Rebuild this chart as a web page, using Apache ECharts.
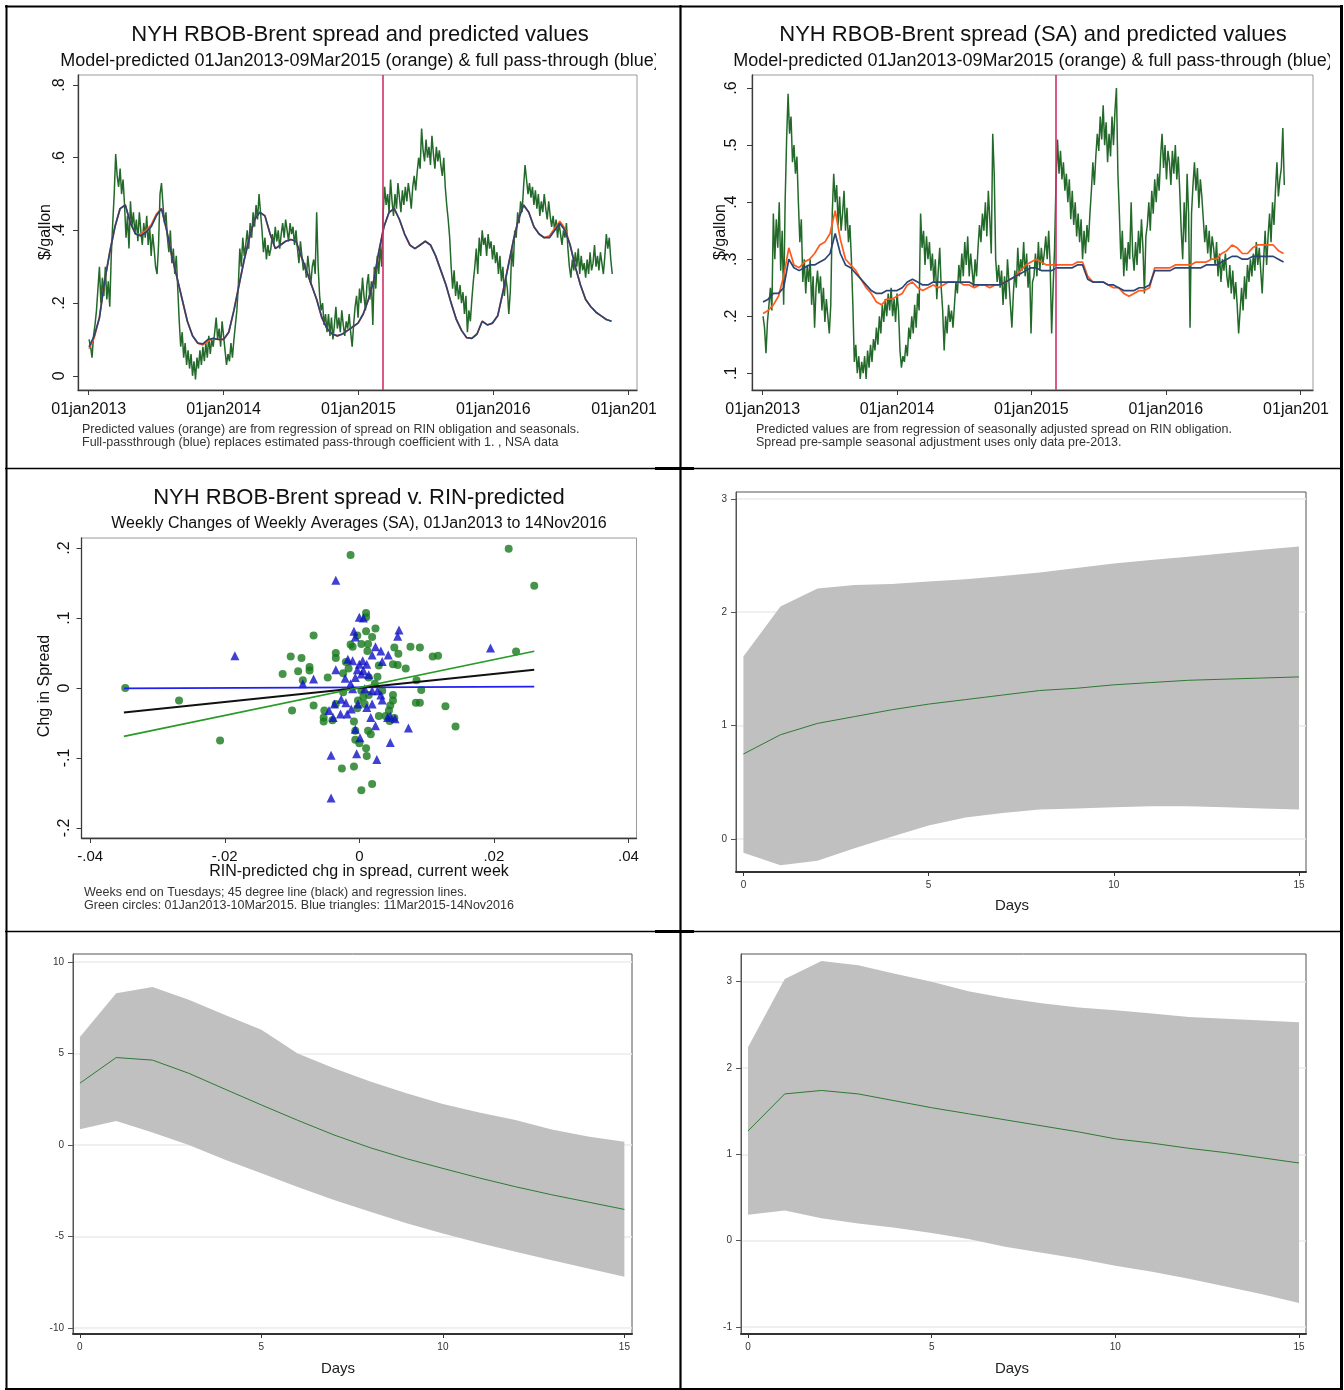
<!DOCTYPE html>
<html>
<head>
<meta charset="utf-8">
<title>NYH RBOB-Brent spread, RIN-predicted values and impulse responses</title>
<script src="https://cdn.jsdelivr.net/npm/echarts@6.0.0/dist/echarts.min.js"></script>
<style>
html, body { margin: 0; padding: 0; background: #fff; }
#chart { width: 1344px; height: 1390px; }
</style>
</head>
<body>
<div id="chart"></div>
<script>
// ---------- time axis: days since 01jan2013 ----------
const yearTicks = [0, 365, 730, 1095, 1461];
const yearLabels = ['01jan2013', '01jan2014', '01jan2015', '01jan2016', '01jan2017'];
const breakDay = 797; // 09Mar2015, end of the estimation sample

// NYH RBOB-Brent spread, $/gallon, one reading every 4 days from 02jan2013
const dailyStart = 1;
const dailyStep = 4;
const spreadNSA = [
  0.10,0.08,0.05,0.11,0.14,0.18,0.24,0.30, 0.20,0.27,0.22,0.30,0.21,0.26,0.19,
  0.33,0.42,0.50,0.61,0.55,0.52,0.57,0.50, 0.54,0.47,0.38,0.44,0.35,0.48,0.41,0.45,
  0.39,0.43,0.37,0.45,0.40,0.36,0.42, 0.38,0.44,0.36,0.41,0.33,0.39,0.35,0.30,
  0.28,0.36,0.50,0.53,0.47,0.42,0.45,0.38, 0.34,0.40,0.31,0.35,0.28,0.33,0.24,
  0.15,0.08,0.12,0.05,0.09,0.03,0.07,0.02, 0.06,0.00,0.04,-0.01,0.05,0.02,0.07,0.03,
  0.08,0.04,0.09,0.05,0.11,0.06,0.10, 0.08,0.12,0.16,0.10,0.13,0.08,0.15,0.11,
  0.07,0.03,0.06,0.04,0.09,0.05,0.10,0.14, 0.18,0.25,0.35,0.30,0.38,0.33,0.36,
  0.40,0.35,0.42,0.38,0.45,0.41,0.47,0.43, 0.50,0.45,0.40,0.34,0.38,0.32,0.36,0.33,
  0.35,0.39,0.36,0.41,0.37,0.40,0.35, 0.39,0.42,0.38,0.43,0.40,0.37,0.42,0.39,
  0.41,0.36,0.40,0.35,0.31,0.37,0.33,0.29, 0.31,0.27,0.33,0.29,0.25,0.30,0.32,
  0.28,0.45,0.30,0.22,0.18,0.20,0.14,0.17, 0.12,0.17,0.11,0.16,0.10,0.14,0.19,0.13,
  0.16,0.12,0.18,0.14,0.11,0.15,0.13, 0.17,0.12,0.08,0.14,0.19,0.22,0.16,0.24,
  0.20,0.27,0.22,0.18,0.25,0.28,0.21,0.26, 0.14,0.30,0.24,0.33,0.28,0.36,0.30,
  0.45,0.52,0.47,0.50,0.45,0.54,0.48,0.44, 0.50,0.46,0.53,0.49,0.45,0.51,0.47,0.52,
  0.48,0.53,0.50,0.46,0.52,0.55,0.51, 0.56,0.60,0.57,0.68,0.62,0.59,0.65,0.60,
  0.63,0.58,0.66,0.61,0.57,0.63,0.59,0.62, 0.58,0.55,0.60,0.52,0.47,0.43,0.38,
  0.30,0.24,0.29,0.22,0.26,0.21,0.25,0.20, 0.23,0.17,0.22,0.12,0.18,0.15,0.21,0.26,
  0.30,0.35,0.28,0.38,0.33,0.40,0.36, 0.38,0.33,0.39,0.35,0.37,0.32,0.36,0.31,
  0.34,0.28,0.33,0.26,0.30,0.22,0.27,0.24, 0.17,0.23,0.35,0.30,0.40,0.38,0.45,
  0.42,0.48,0.45,0.52,0.58,0.54,0.50,0.53, 0.49,0.52,0.47,0.51,0.46,0.50,0.44,0.48,
  0.45,0.50,0.46,0.43,0.48,0.44,0.41, 0.44,0.40,0.43,0.38,0.42,0.39,0.36,0.40,
  0.38,0.42,0.35,0.30,0.27,0.32,0.29,0.34, 0.30,0.35,0.28,0.33,0.29,0.31,0.27,
  0.32,0.28,0.34,0.29,0.31,0.36,0.30,0.33, 0.29,0.34,0.31,0.28,0.33,0.39,0.35,0.38,
  0.32,0.28
];
// seasonally adjusted spread, same dates
const spreadSA = [
  0.20,0.18,0.135,0.19,0.22,0.25,0.21,0.38, 0.30,0.37,0.32,0.40,0.28,0.35,0.22,
  0.40,0.51,0.59,0.52,0.55,0.47,0.50,0.45, 0.48,0.40,0.33,0.37,0.26,0.30,0.24,0.29,
  0.26,0.30,0.22,0.27,0.18,0.25,0.28, 0.24,0.27,0.21,0.25,0.19,0.23,0.20,0.17,
  0.22,0.38,0.45,0.40,0.43,0.36,0.41,0.35, 0.38,0.42,0.35,0.39,0.33,0.36,0.30,
  0.22,0.12,0.15,0.10,0.13,0.09,0.12,0.10, 0.13,0.09,0.14,0.11,0.15,0.12,0.16,0.14,
  0.18,0.15,0.20,0.17,0.22,0.19,0.23, 0.20,0.24,0.21,0.25,0.20,0.23,0.19,0.24,
  0.21,0.14,0.11,0.13,0.12,0.15,0.13,0.18, 0.16,0.20,0.17,0.22,0.18,0.24,0.21,
  0.38,0.32,0.35,0.29,0.34,0.30,0.33,0.28, 0.31,0.26,0.30,0.23,0.28,0.32,0.25,0.21,
  0.14,0.20,0.17,0.22,0.19,0.21,0.18, 0.22,0.26,0.24,0.29,0.26,0.31,0.27,0.33,
  0.29,0.34,0.27,0.31,0.28,0.25,0.30,0.27, 0.32,0.36,0.33,0.38,0.35,0.40,0.34,
  0.42,0.37,0.31,0.52,0.45,0.30,0.26,0.29, 0.25,0.28,0.22,0.27,0.23,0.30,0.26,0.22,
  0.18,0.24,0.28,0.25,0.32,0.27,0.30, 0.28,0.33,0.27,0.31,0.25,0.29,0.17,0.26,
  0.27,0.31,0.27,0.33,0.28,0.32,0.29,0.31, 0.34,0.30,0.35,0.29,0.17,0.25,0.32,
  0.44,0.51,0.45,0.49,0.44,0.47,0.42,0.45, 0.40,0.44,0.37,0.42,0.36,0.40,0.34,0.38,
  0.33,0.37,0.30,0.35,0.31,0.36,0.33, 0.38,0.42,0.47,0.43,0.48,0.52,0.49,0.55,
  0.51,0.57,0.50,0.54,0.47,0.52,0.48,0.55, 0.50,0.56,0.60,0.45,0.38,0.30,0.35,
  0.27,0.32,0.28,0.33,0.30,0.40,0.31,0.28, 0.33,0.29,0.35,0.31,0.37,0.32,0.24,0.34,
  0.36,0.40,0.35,0.42,0.38,0.44,0.40, 0.45,0.42,0.48,0.52,0.46,0.50,0.44,0.49,
  0.47,0.43,0.49,0.45,0.50,0.44,0.48,0.42, 0.35,0.30,0.40,0.33,0.45,0.38,0.18,
  0.38,0.43,0.47,0.42,0.46,0.39,0.44,0.41, 0.37,0.33,0.36,0.31,0.35,0.30,0.34,0.32,
  0.29,0.33,0.27,0.31,0.26,0.30,0.28, 0.31,0.27,0.25,0.29,0.24,0.28,0.23,0.26,
  0.22,0.17,0.21,0.25,0.21,0.27,0.23,0.29, 0.26,0.30,0.27,0.31,0.28,0.33,0.29,
  0.32,0.28,0.24,0.30,0.35,0.29,0.34,0.38, 0.33,0.40,0.36,0.42,0.47,0.41,0.44,0.46,
  0.53,0.43
];

// model predictions, one value every 14 days from 02jan2013
const smoothStep = 14;
const predNSA = [
  0.075,0.105,0.16,0.26,0.34,0.41,0.46,0.47,0.42,0.39,
  0.39,0.40,0.415,0.445,0.46,0.40,0.33,0.27,0.21,0.15,
  0.11,0.09,0.085,0.095,0.103,0.10,0.10,0.12,0.18,0.25,
  0.32,0.38,0.43,0.45,0.44,0.39,0.35,0.36,0.37,0.375,
  0.37,0.33,0.29,0.25,0.21,0.16,0.13,0.115,0.11,0.115,
  0.125,0.135,0.145,0.17,0.21,0.26,0.34,0.41,0.45,0.46,
  0.43,0.39,0.36,0.35,0.36,0.37,0.36,0.33,0.29,0.25,
  0.20,0.155,0.125,0.105,0.103,0.115,0.15,0.14,0.145,0.165,
  0.23,0.30,0.37,0.43,0.47,0.45,0.41,0.39,0.38,0.385,
  0.405,0.425,0.405,0.36,0.30,0.25,0.21,0.19,0.175,0.165,
  0.155,0.15
];
const fullNSA = [
  0.08,0.11,0.16,0.26,0.34,0.41,0.46,0.47,0.42,0.39,
  0.385,0.395,0.41,0.44,0.46,0.40,0.33,0.27,0.21,0.15,
  0.11,0.09,0.088,0.10,0.103,0.10,0.10,0.12,0.18,0.25,
  0.32,0.38,0.43,0.45,0.44,0.39,0.35,0.36,0.37,0.375,
  0.37,0.33,0.29,0.25,0.21,0.16,0.13,0.115,0.11,0.115,
  0.125,0.135,0.145,0.17,0.21,0.26,0.34,0.41,0.45,0.46,
  0.43,0.39,0.36,0.35,0.36,0.37,0.36,0.33,0.29,0.25,
  0.20,0.155,0.125,0.105,0.103,0.115,0.15,0.14,0.145,0.165,
  0.23,0.30,0.37,0.43,0.47,0.45,0.41,0.39,0.38,0.38,
  0.40,0.42,0.40,0.36,0.30,0.25,0.21,0.19,0.175,0.165,
  0.155,0.15
];
const predSA = [
  0.205,0.21,0.22,0.235,0.27,0.32,0.29,0.285,0.295,0.30,
  0.31,0.325,0.33,0.345,0.385,0.335,0.30,0.29,0.28,0.265,
  0.25,0.24,0.225,0.22,0.23,0.23,0.235,0.24,0.255,0.26,
  0.25,0.245,0.25,0.255,0.25,0.255,0.26,0.26,0.26,0.255,
  0.255,0.25,0.255,0.255,0.25,0.255,0.255,0.26,0.265,0.27,
  0.28,0.29,0.295,0.30,0.295,0.29,0.29,0.29,0.29,0.29,
  0.29,0.295,0.295,0.27,0.26,0.26,0.26,0.255,0.25,0.25,
  0.24,0.235,0.24,0.245,0.245,0.25,0.285,0.285,0.285,0.285,
  0.29,0.29,0.29,0.29,0.295,0.295,0.295,0.30,0.30,0.31,
  0.315,0.325,0.32,0.31,0.31,0.32,0.325,0.325,0.325,0.325,
  0.315,0.31
];
const fullSA = [
  0.225,0.23,0.24,0.24,0.25,0.30,0.285,0.28,0.285,0.29,
  0.29,0.295,0.30,0.31,0.345,0.31,0.29,0.285,0.275,0.265,
  0.255,0.245,0.24,0.24,0.245,0.245,0.245,0.25,0.26,0.265,
  0.26,0.255,0.255,0.26,0.26,0.26,0.26,0.26,0.26,0.26,
  0.26,0.255,0.255,0.255,0.255,0.255,0.255,0.26,0.265,0.27,
  0.275,0.28,0.285,0.285,0.28,0.28,0.28,0.285,0.285,0.285,
  0.285,0.29,0.29,0.265,0.26,0.26,0.26,0.255,0.255,0.25,
  0.245,0.245,0.245,0.25,0.25,0.255,0.28,0.28,0.28,0.28,
  0.285,0.285,0.285,0.285,0.285,0.285,0.29,0.29,0.29,0.295,
  0.30,0.305,0.305,0.30,0.30,0.305,0.305,0.305,0.305,0.305,
  0.30,0.295
];

// weekly changes: [RIN-predicted chg, chg in spread]
const earlyWeeks = [
  [-0.0348,0.000],[-0.0268,-0.018],[-0.0207,-0.075],[-0.0013,0.190],[0.0222,0.199],[0.0260,0.146],
  [0.0233,0.052],[-0.0068,0.075],[-0.0102,0.045],[-0.0086,0.043],[-0.0114,0.020],[-0.0091,0.024],
  [-0.0074,0.030],[-0.0074,0.025],[-0.0100,-0.032],[-0.0068,-0.025],[-0.0084,0.011],[-0.0047,0.015],
  [-0.0035,0.050],[-0.0035,0.043],[-0.0052,-0.032],[-0.0053,-0.042],[-0.0053,-0.048],[-0.0040,-0.046],
  [-0.0026,-0.115],[-0.0008,-0.112],[0.0003,-0.146],[0.0019,-0.137],[0.0010,0.107],[0.0010,0.101],
  [-0.0013,0.062],[-0.0003,0.075],[0.0010,0.081],[0.0019,0.073],[0.0024,0.085],[0.0013,0.063],
  [0.0003,0.063],[-0.0010,0.059],[0.0012,0.053],[0.0052,0.058],[0.0058,0.049],[0.0076,0.059],
  [0.0090,0.058],[0.0109,0.045],[0.0117,0.046],[0.0050,0.034],[0.0057,0.033],[0.0069,0.028],
  [0.0029,0.032],[-0.0020,0.037],[-0.0016,0.028],[-0.0024,0.021],[0.0027,0.016],[0.0085,0.011],
  [0.0092,-0.003],[0.0084,-0.021],[0.0090,-0.021],[0.0128,-0.026],[0.0143,-0.055],[0.0050,-0.010],
  [0.0046,-0.025],[0.0050,-0.018],[0.0044,-0.032],[0.0052,-0.043],[0.0045,-0.047],[0.0003,-0.004],
  [-0.0002,-0.018],[0.0006,-0.013],[0.0014,-0.010],[0.0008,-0.023],[-0.0003,-0.029],[-0.0008,-0.048],
  [-0.0006,-0.061],[-0.0006,-0.074],[0.0000,-0.079],[0.0010,-0.086],[0.0011,-0.097],[0.0013,-0.061],
  [0.0017,-0.066],[0.0029,-0.040],[0.0039,-0.040],[0.0034,-0.004],[-0.0035,-0.023],[-0.0024,-0.006],
  [0.0014,0.015],[0.0023,0.006]
];
const lateWeeks = [
  [-0.0185,0.046],[-0.0035,0.154],[0.0000,0.101],[0.0006,0.100],[0.0059,0.083],[0.0057,0.074],
  [-0.0008,0.081],[-0.0006,0.073],[0.0195,0.057],[-0.0068,0.013],[-0.0084,0.006],[-0.0035,0.026],
  [-0.0017,0.041],[-0.0010,0.039],[0.0000,0.034],[0.0005,0.039],[0.0011,0.034],[0.0006,0.025],
  [-0.0003,0.026],[0.0024,0.059],[0.0032,0.053],[0.0019,0.047],[0.0043,0.047],[0.0034,0.038],
  [0.0014,0.019],[-0.0021,0.014],[-0.0013,0.006],[-0.0027,-0.016],[-0.0020,-0.021],[-0.0037,-0.023],
  [-0.0045,-0.032],[-0.0039,-0.042],[-0.0028,-0.037],[-0.0018,-0.037],[-0.0012,-0.030],[-0.0002,-0.023],
  [0.0011,-0.028],[0.0017,-0.042],[0.0027,-0.004],[0.0032,-0.010],[0.0034,-0.017],[0.0042,-0.042],
  [0.0053,-0.044],[0.0046,-0.040],[0.0073,-0.057],[0.0046,-0.078],[-0.0006,-0.059],[0.0001,-0.071],
  [-0.0004,-0.094],[-0.0042,-0.096],[0.0026,-0.102],[-0.0042,-0.157],[0.0019,-0.004],[0.0008,-0.001],
  [-0.0010,-0.001],[0.0019,-0.023],[0.0024,-0.054],[0.0003,0.020],[-0.0006,0.015]
];
const line45 = [[-0.035, -0.035], [0.026, 0.026]];
const fitEarly = [[-0.035, -0.069], [0.026, 0.0525]];
const fitLate = [[-0.035, -0.0005], [0.026, 0.002]];

// impulse responses over 15 days, point estimate and confidence band
const days = [0,1,2,3,4,5,6,7,8,9,10,11,12,13,14,15];
const irfAMid = [0.75,0.92,1.02,1.08,1.14,1.19,1.23,1.27,1.31,1.33,1.36,1.38,1.40,1.41,1.42,1.43];
const irfAHi  = [1.61,2.05,2.21,2.24,2.25,2.27,2.29,2.32,2.35,2.39,2.43,2.46,2.49,2.52,2.55,2.58];
const irfALo  = [-0.12,-0.23,-0.19,-0.08,0.02,0.12,0.19,0.23,0.26,0.27,0.28,0.29,0.29,0.28,0.27,0.26];
const irfBMid = [3.38,4.78,4.64,3.92,3.05,2.19,1.35,0.55,-0.15,-0.75,-1.28,-1.80,-2.28,-2.72,-3.12,-3.52];
const irfBHi  = [5.9,8.3,8.63,7.94,7.1,6.3,5.0,4.2,3.47,2.83,2.24,1.77,1.37,0.85,0.46,0.18];
const irfBLo  = [0.86,1.31,0.68,0.0,-0.8,-1.55,-2.3,-3.0,-3.65,-4.27,-4.84,-5.36,-5.84,-6.3,-6.75,-7.2];
const irfCMid = [1.27,1.70,1.74,1.70,1.62,1.54,1.47,1.40,1.33,1.26,1.18,1.13,1.07,1.02,0.96,0.90];
const irfCHi  = [2.24,3.03,3.24,3.19,3.09,3.0,2.89,2.81,2.75,2.70,2.67,2.63,2.59,2.57,2.55,2.53];
const irfCLo  = [0.30,0.35,0.26,0.20,0.15,0.09,0.02,-0.07,-0.14,-0.21,-0.29,-0.36,-0.44,-0.53,-0.62,-0.72];

// ---------- helpers ----------
const FONT = '"Liberation Sans", Arial, Helvetica, sans-serif';
const C_SPREAD = '#22692a';
const C_PRED = '#ff5b1e';
const C_FULL = '#2b4475';
const C_BREAK = '#d4306a';

const toXY = (vals, start, step) => vals.map((v, i) => [start + step * i, v]);
const dateLabel = v => { const i = yearTicks.indexOf(v); return i < 0 ? '' : yearLabels[i]; };
const stataNum = v => {
  if (Math.abs(v) < 1e-9) return '0';
  return String(+v.toFixed(3)).replace(/^(-?)0\./, '$1.');
};

function stataX(gi, min, max, ticks, fmt, size, margin) {
  return {
    type: 'value', gridIndex: gi, min, max,
    axisLine: { show: true, onZero: false, lineStyle: { color: '#3a3a3a', width: 1.3 } },
    axisTick: { show: true, length: 5, customValues: ticks, lineStyle: { color: '#3a3a3a' } },
    axisLabel: { customValues: ticks, formatter: fmt, fontFamily: FONT, fontSize: size, color: '#111', margin },
    splitLine: { show: false }
  };
}
function stataY(gi, min, max, ticks, margin) {
  return {
    type: 'value', gridIndex: gi, min, max,
    axisLine: { show: true, onZero: false, lineStyle: { color: '#3a3a3a', width: 1.3 } },
    axisTick: { show: true, length: 5, customValues: ticks, lineStyle: { color: '#3a3a3a' } },
    axisLabel: { customValues: ticks, formatter: stataNum, rotate: 90, fontFamily: FONT, fontSize: 16, color: '#111', margin },
    splitLine: { show: false }
  };
}
function irfX(gi, min, max) {
  const ticks = [0, 5, 10, 15];
  return {
    type: 'value', gridIndex: gi, min, max,
    axisLine: { show: true, onZero: false, lineStyle: { color: '#333', width: 2 } },
    axisTick: { show: true, length: 4, customValues: ticks, lineStyle: { color: '#333' } },
    axisLabel: { customValues: ticks, fontFamily: FONT, fontSize: 10, color: '#333', margin: 8 },
    splitLine: { show: false }
  };
}
function irfY(gi, min, max, ticks) {
  return {
    type: 'value', gridIndex: gi, min, max,
    axisLine: { show: true, onZero: false, lineStyle: { color: '#555', width: 1 } },
    axisTick: { show: true, length: 5, customValues: ticks, lineStyle: { color: '#555' } },
    axisLabel: { customValues: ticks, fontFamily: FONT, fontSize: 10, color: '#333', margin: 9 },
    splitLine: { show: true, lineStyle: { color: '#ebebeb', width: 1.5 } }
  };
}
function lineSeries(gi, data, color, width, z) {
  return {
    type: 'line', xAxisIndex: gi, yAxisIndex: gi, data, z,
    symbol: 'none', showSymbol: false, silent: true, animation: false,
    emphasis: { disabled: true },
    lineStyle: { color, width }
  };
}
function bandSeries(gi, lo, hi) {
  return {
    type: 'custom', xAxisIndex: gi, yAxisIndex: gi, silent: true, animation: false, z: 1,
    data: days.map((d, i) => [d, lo[i], hi[i]]),
    encode: { x: 0, y: [1, 2] },
    renderItem: (params, api) => {
      if (params.dataIndex !== 0) return null;
      const pts = [];
      for (let i = 0; i < days.length; i++) pts.push(api.coord([days[i], hi[i]]));
      for (let i = days.length - 1; i >= 0; i--) pts.push(api.coord([days[i], lo[i]]));
      return { type: 'polygon', shape: { points: pts }, style: { fill: '#c0c0c0' } };
    }
  };
}
function txt(x, y, text, size, o = {}) {
  const align = o.align || 'center';
  return {
    type: 'text', x, y, z: 50, silent: true, rotation: o.rot || 0,
    style: {
      text, fill: o.color || '#111', font: size + 'px ' + FONT,
      align, verticalAlign: 'middle', textAlign: align, textVerticalAlign: 'middle'
    }
  };
}
function rule(x1, y1, x2, y2, w) {
  return { type: 'line', z: 120, silent: true, shape: { x1, y1, x2, y2 }, style: { stroke: '#000', lineWidth: w } };
}

const gridBase = { show: true, containLabel: false, outerBoundsMode: 'none' };
const NOTE = 12.5;

// ---------- chart ----------
const chart = echarts.init(document.getElementById('chart'), null, { renderer: 'canvas' });
chart.setOption({
  animation: false,
  backgroundColor: '#fff',
  grid: [
    Object.assign({ left: 78, top: 75, width: 559, height: 315, borderColor: '#9a9a9a', borderWidth: 1 }, gridBase),
    Object.assign({ left: 752, top: 75, width: 561, height: 315, borderColor: '#9a9a9a', borderWidth: 1 }, gridBase),
    Object.assign({ left: 81.5, top: 538, width: 555, height: 300, borderColor: '#9a9a9a', borderWidth: 1 }, gridBase),
    Object.assign({ left: 736, top: 492, width: 570, height: 380, borderColor: '#555', borderWidth: 1 }, gridBase),
    Object.assign({ left: 73, top: 954, width: 559, height: 380, borderColor: '#555', borderWidth: 1 }, gridBase),
    Object.assign({ left: 741, top: 954, width: 565, height: 380, borderColor: '#555', borderWidth: 1 }, gridBase)
  ],
  xAxis: [
    stataX(0, -29, 1484, yearTicks, dateLabel, 16, 12),
    stataX(1, -29, 1495, yearTicks, dateLabel, 16, 12),
    stataX(2, -0.0413, 0.0412, [-0.04, -0.02, 0, 0.02, 0.04], stataNum, 15, 11),
    irfX(3, -0.2, 15.19),
    irfX(4, -0.19, 15.21),
    irfX(5, -0.19, 15.19)
  ],
  yAxis: [
    stataY(0, -0.039, 0.8275, [0, 0.2, 0.4, 0.6, 0.8], 10),
    stataY(1, 0.0707, 0.623, [0.1, 0.2, 0.3, 0.4, 0.5, 0.6], 12),
    stataY(2, -0.2143, 0.2143, [-0.2, -0.1, 0, 0.1, 0.2], 9),
    irfY(3, -0.29, 3.06, [0, 1, 2, 3]),
    irfY(4, -10.33, 10.44, [-10, -5, 0, 5, 10]),
    irfY(5, -1.08, 3.32, [-1, 0, 1, 2, 3])
  ],
  series: [
    // spread NSA with predictions
    Object.assign(lineSeries(0, toXY(spreadNSA, dailyStart, dailyStep), C_SPREAD, 1.5, 2), {
      markLine: {
        silent: true, symbol: 'none', animation: false, label: { show: false },
        emphasis: { disabled: true },
        lineStyle: { color: C_BREAK, width: 1.6, type: 'solid' },
        data: [{ xAxis: breakDay }]
      }
    }),
    lineSeries(0, toXY(predNSA, dailyStart, smoothStep), C_PRED, 1.7, 3),
    lineSeries(0, toXY(fullNSA, dailyStart, smoothStep), C_FULL, 1.7, 4),
    // spread SA with predictions
    Object.assign(lineSeries(1, toXY(spreadSA, dailyStart, dailyStep), C_SPREAD, 1.5, 2), {
      markLine: {
        silent: true, symbol: 'none', animation: false, label: { show: false },
        emphasis: { disabled: true },
        lineStyle: { color: C_BREAK, width: 1.6, type: 'solid' },
        data: [{ xAxis: breakDay }]
      }
    }),
    lineSeries(1, toXY(predSA, dailyStart, smoothStep), C_PRED, 1.7, 3),
    lineSeries(1, toXY(fullSA, dailyStart, smoothStep), C_FULL, 1.7, 4),
    // weekly changes scatter
    {
      type: 'scatter', xAxisIndex: 2, yAxisIndex: 2, data: earlyWeeks, symbol: 'circle', symbolSize: 8,
      itemStyle: { color: '#17791b' }, silent: true, z: 2
    },
    {
      type: 'scatter', xAxisIndex: 2, yAxisIndex: 2, data: lateWeeks, symbol: 'triangle', symbolSize: 9,
      itemStyle: { color: '#1010c8' }, silent: true, z: 3
    },
    lineSeries(2, fitLate, '#2020f0', 1.6, 4),
    lineSeries(2, line45, '#111', 1.9, 5),
    lineSeries(2, fitEarly, '#279a27', 1.7, 6),
    // impulse responses
    bandSeries(3, irfALo, irfAHi),
    lineSeries(3, days.map((d, i) => [d, irfAMid[i]]), '#2f7a34', 1, 3),
    bandSeries(4, irfBLo, irfBHi),
    lineSeries(4, days.map((d, i) => [d, irfBMid[i]]), '#2f7a34', 1, 3),
    bandSeries(5, irfCLo, irfCHi),
    lineSeries(5, days.map((d, i) => [d, irfCMid[i]]), '#2f7a34', 1, 3)
  ],
  graphic: [
    // panel 1 text
    txt(360, 35, 'NYH RBOB-Brent spread and predicted values', 22),
    txt(360, 61.5, 'Model-predicted 01Jan2013-09Mar2015 (orange) & full pass-through (blue)', 18),
    txt(46, 232, '$/gallon', 16, { rot: Math.PI / 2 }),
    txt(82, 430, 'Predicted values (orange) are from regression of spread on RIN obligation and seasonals.', NOTE, { align: 'left', color: '#333' }),
    txt(82, 443, 'Full-passthrough (blue) replaces estimated pass-through coefficient with 1. , NSA data', NOTE, { align: 'left', color: '#333' }),
    // panel 2 text
    txt(1033, 35, 'NYH RBOB-Brent spread (SA) and predicted values', 22),
    txt(1033, 61.5, 'Model-predicted 01Jan2013-09Mar2015 (orange) & full pass-through (blue)', 18),
    txt(721, 232, '$/gallon', 16, { rot: Math.PI / 2 }),
    txt(756, 430, 'Predicted values are from regression of seasonally adjusted spread on RIN obligation.', NOTE, { align: 'left', color: '#333' }),
    txt(756, 443, 'Spread pre-sample seasonal adjustment uses only data pre-2013.', NOTE, { align: 'left', color: '#333' }),
    // panel 3 text
    txt(359, 498, 'NYH RBOB-Brent spread v. RIN-predicted', 22),
    txt(359, 524, 'Weekly Changes of Weekly Averages (SA), 01Jan2013 to 14Nov2016', 16),
    txt(45, 686, 'Chg in Spread', 16, { rot: Math.PI / 2 }),
    txt(359, 872, 'RIN-predicted chg in spread, current week', 16),
    txt(84, 893, 'Weeks end on Tuesdays; 45 degree line (black) and regression lines.', NOTE, { align: 'left', color: '#333' }),
    txt(84, 906, 'Green circles: 01Jan2013-10Mar2015. Blue triangles: 11Mar2015-14Nov2016', NOTE, { align: 'left', color: '#333' }),
    // impulse-response axis titles
    txt(1012, 906, 'Days', 15, { color: '#222' }),
    txt(338, 1369, 'Days', 15, { color: '#222' }),
    txt(1012, 1369, 'Days', 15, { color: '#222' }),
    // cropped edges of the two top panels
    { type: 'rect', z: 100, silent: true, shape: { x: 656, y: 8, width: 23, height: 459 }, style: { fill: '#fff' } },
    { type: 'rect', z: 100, silent: true, shape: { x: 1330, y: 8, width: 10, height: 459 }, style: { fill: '#fff' } },
    // table rules
    rule(6.5, 5, 6.5, 1390, 2),
    rule(5, 6.5, 1343, 6.5, 2),
    rule(1341.5, 5, 1341.5, 1390, 3),
    rule(5, 1389, 1343, 1389, 2),
    rule(680.5, 5, 680.5, 1390, 2.2),
    rule(5, 468.5, 1343, 468.5, 1.5),
    rule(5, 931.5, 1343, 931.5, 1.5),
    rule(655, 468.5, 694, 468.5, 3),
    rule(655, 931.5, 694, 931.5, 3)
  ]
});
</script>
</body>
</html>
